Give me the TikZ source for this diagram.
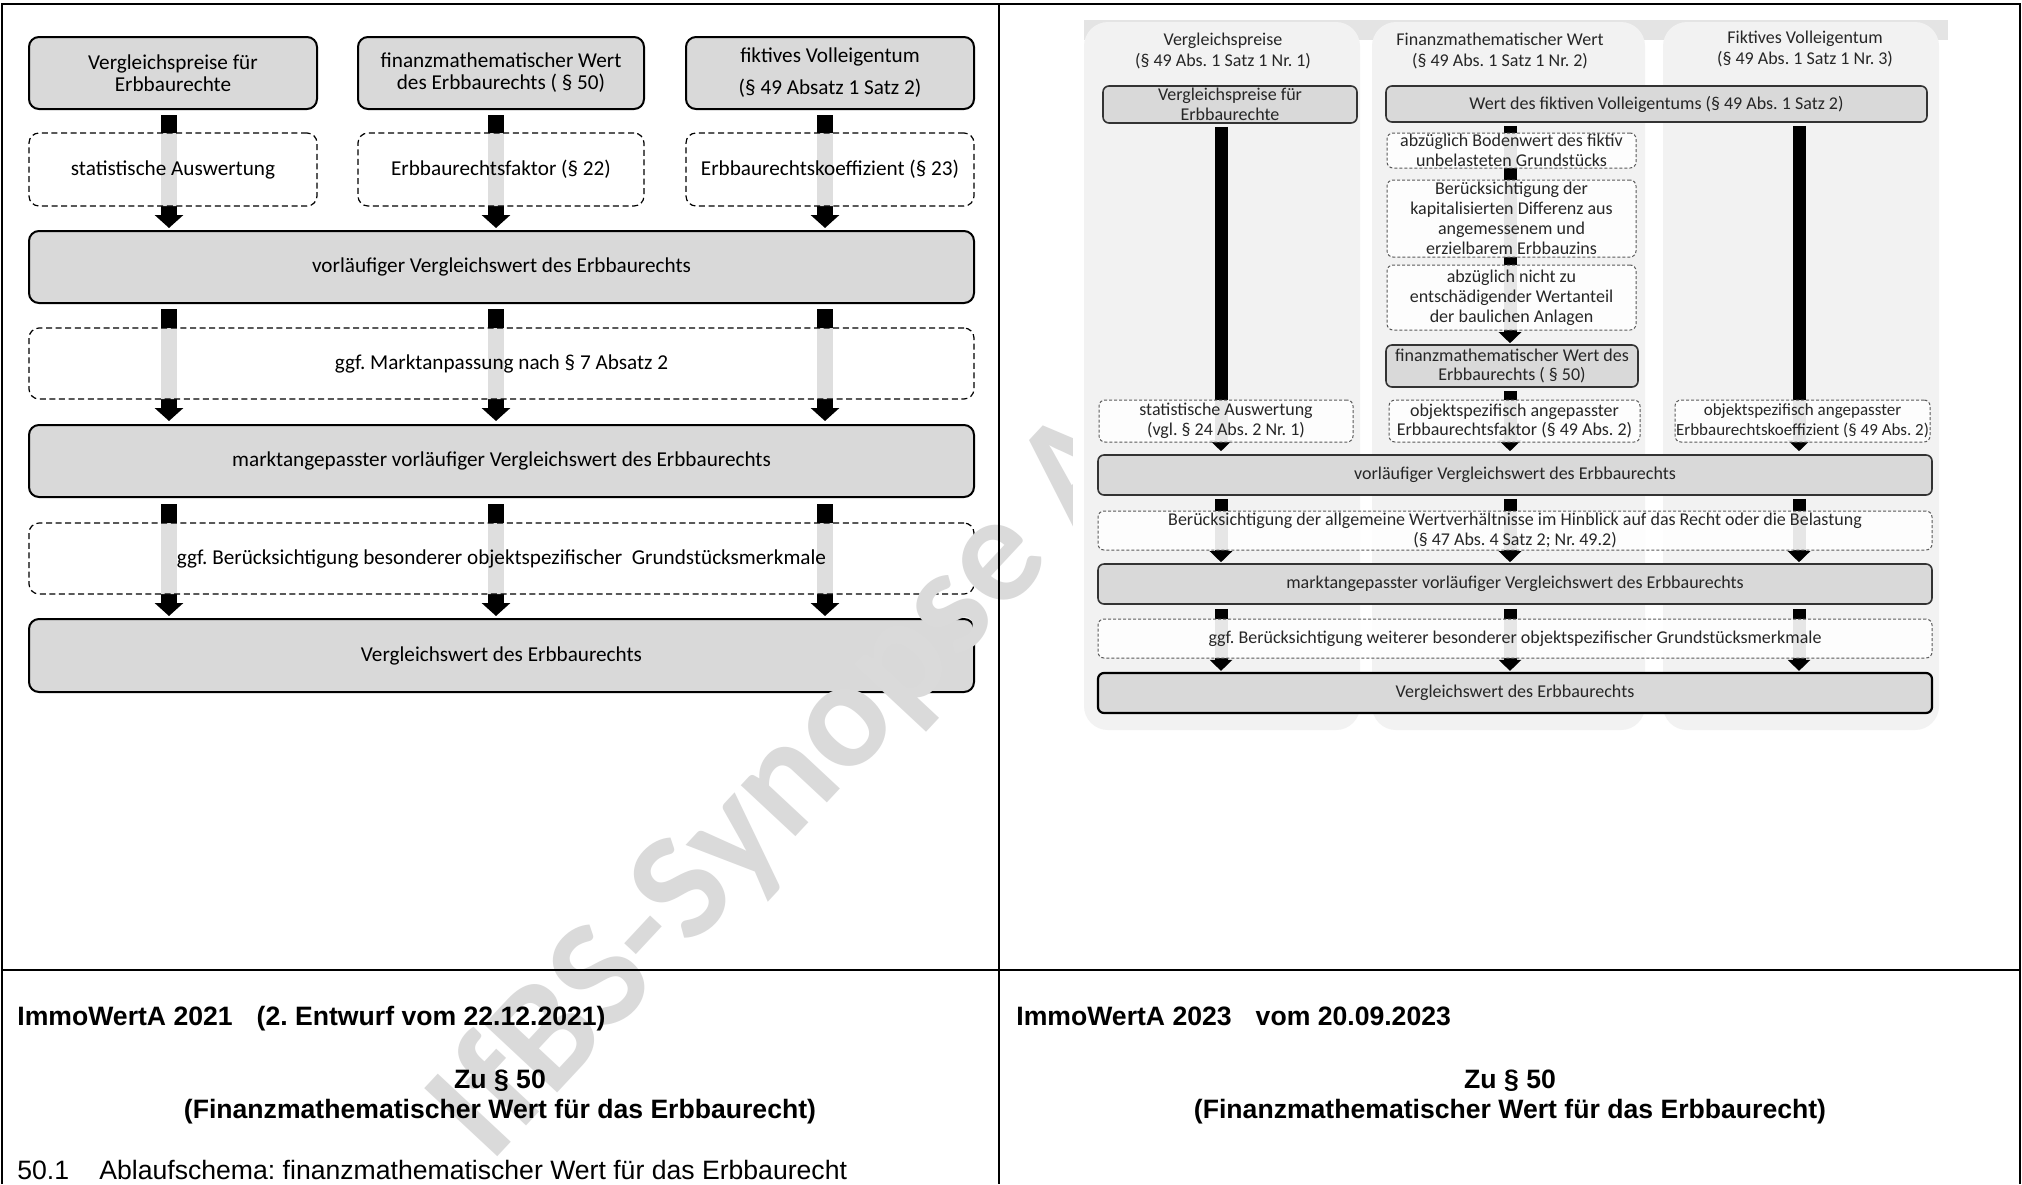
\documentclass[tikz,border=0pt]{standalone}
\usepackage{fontspec}
\setmainfont{Carlito}
\newfontfamily\arialfont{Liberation Sans}
\usetikzlibrary{arrows.meta}
\frenchspacing

\definecolor{boxgrey}{HTML}{D9D9D9}
\definecolor{panelgrey}{HTML}{F2F2F2}
\definecolor{stripgrey}{HTML}{E4E4E4}
\definecolor{wmgrey}{HTML}{DADADA}

\pgfdeclarelayer{panels}
\pgfdeclarelayer{arrows}
\pgfsetlayers{panels,arrows,main}

\begin{document}
\begin{tikzpicture}[x=0.5pt,y=-0.5pt,
  % a node spanning the rectangle x1/y1/x2/y2 (pixel units)
  span/.style args={#1/#2/#3/#4}{at={({(#1+#3)/2},{(#2+#4)/2})},
    minimum width={(#3-#1)*0.5pt}, minimum height={(#4-#2)*0.5pt}},
  % left flow chart
  lbox/.style={draw=black, line width=1pt, fill=boxgrey, rounded corners=5pt,
    inner sep=0pt, align=center, font=\fontsize{10.6}{11}\selectfont},
  ldash/.style={draw=black, line width=0.6pt, dash pattern=on 3pt off 1.8pt,
    fill=white, fill opacity=0.87, text opacity=1, rounded corners=5pt,
    inner sep=0pt, align=center, font=\fontsize{10.6}{11}\selectfont},
  larrow/.style={line width=8pt, -{Triangle[width=14pt,length=6.5pt]}},
  % right flow chart
  rbox/.style={draw=black!80, line width=0.8pt, fill=boxgrey, rounded corners=3pt,
    inner sep=0pt, align=center, text=black!85, font=\fontsize{9}{9.9}\selectfont},
  rfinal/.style={rbox, draw=black, line width=1.1pt},
  rdash/.style={draw=black!65, line width=0.5pt, dash pattern=on 1.5pt off 1pt,
    fill=white, fill opacity=0.9, text opacity=1, rounded corners=3pt,
    inner sep=0pt, align=center, text=black!85, font=\fontsize{9}{9.9}\selectfont},
  rhead/.style={align=center, inner sep=0pt, text=black!85, font=\fontsize{9}{10.8}\selectfont},
  rarrow/.style={line width=6.5pt, -{Triangle[width=11pt,length=5.5pt]}},
  % table text
  bt/.style={inner sep=0pt, font=\arialfont\bfseries\fontsize{13.3}{16}\selectfont},
  nt/.style={inner sep=0pt, font=\arialfont\fontsize{13.3}{16}\selectfont},
  wm/.style={inner sep=0pt, text=wmgrey, font=\bfseries\fontsize{77}{84}\selectfont},
  frame/.style={line width=1.2pt, draw=black}
]
\useasboundingbox (0,0) rectangle (2022,1184);
\begin{pgfonlayer}{panels}
  \fill[white] (0,0) rectangle (2022,1184);
\end{pgfonlayer}

% ---------------- left: ImmoWertA 2021 ----------------
\coordinate (lc1) at (169,0);
\coordinate (lc2) at (496,0);
\coordinate (lc3) at (825,0);

\node[lbox, span=29/37/317/109] (lt1) {Vergleichspreise für\\Erbbaurechte};
\node[lbox, span=358/37/644/109] (lt2) {finanzmathematischer Wert\\des Erbbaurechts ( § 50)};
\node[lbox, span=686/37/974/109] (lt3) {fiktives Volleigentum\\[5pt](§ 49 Absatz 1 Satz 2)};

\node[ldash, span=29/133/317/206] (ls1) {statistische Auswertung};
\node[ldash, span=358/133/644/206] (ls2) {Erbbaurechtsfaktor (§ 22)};
\node[ldash, span=686/133/974/206] (ls3) {Erbbaurechtskoeffizient (§ 23)};

\node[lbox, span=29/231/974/303] (lv) {vorläufiger Vergleichswert des Erbbaurechts};
\node[ldash, span=29/328/974/399] (lma) {ggf. Marktanpassung nach § 7 Absatz 2};
\node[lbox, span=29/425/974/497] (lm) {marktangepasster vorläufiger Vergleichswert des Erbbaurechts};
\node[ldash, span=29/523/974/594] (lg) {ggf. Berücksichtigung besonderer objektspezifischer\ \ Grundstücksmerkmale};
\node[lbox, span=29/619/974/692] (lf) {Vergleichswert des Erbbaurechts};

\begin{pgfonlayer}{arrows}
  \foreach \t/\c in {lt1/lc1, lt2/lc2, lt3/lc3} {
    \draw[larrow] ([yshift=-2.5pt]\t.south -| \c) -- ([yshift=1pt]lv.north -| \c);
  }
  \foreach \c in {lc1, lc2, lc3} {
    \draw[larrow] ([yshift=-2.5pt]lv.south -| \c) -- ([yshift=1.5pt]lm.north -| \c);
    \draw[larrow] ([yshift=-3pt]lm.south -| \c) -- ([yshift=1pt]lf.north -| \c);
  }
\end{pgfonlayer}

% watermark, lying over the left column only
\begin{scope}
  \clip (0,0) rectangle (1072,1184);
  \node[wm, rotate=47, anchor=base west] (wm) at (490,1165) {IfBS-Synopse A};
\end{scope}

% ---------------- right: ImmoWertA 2023 ----------------
\begin{pgfonlayer}{panels}
  \fill[stripgrey] (1084,20) rectangle (1948,40);
  \fill[panelgrey, rounded corners=12pt] (1084,22) rectangle (1360,730);
  \fill[panelgrey, rounded corners=12pt] (1372,22) rectangle (1645,730);
  \fill[panelgrey, rounded corners=12pt] (1663,22) rectangle (1939,730);
\end{pgfonlayer}

\coordinate (rc1) at (1221,0);
\coordinate (rc2) at (1510,0);
\coordinate (rc3) at (1799,0);

\node[rhead] (rh1) at (1223,51) {Vergleichspreise\\(§ 49 Abs. 1 Satz 1 Nr. 1)};
\node[rhead] (rh2) at (1500,51) {Finanzmathematischer Wert\\(§ 49 Abs. 1 Satz 1 Nr. 2)};
\node[rhead] (rh3) at (1805,49) {Fiktives Volleigentum\\(§ 49 Abs. 1 Satz 1 Nr. 3)};

\node[rbox, span=1103/86/1357/123] (rb1) {Vergleichspreise für\\Erbbaurechte};
\node[rbox, span=1386/86/1927/122] (rw) {Wert des fiktiven Volleigentums (§ 49 Abs. 1 Satz 2)};

\node[rdash, span=1387/133/1636/168] (rd1) {abzüglich Bodenwert des fiktiv\\unbelasteten Grundstücks};
\node[rdash, span=1387/180/1636/257] (rd2) {Berücksichtigung der\\kapitalisierten Differenz aus\\angemessenem und\\erzielbarem Erbbauzins};
\node[rdash, span=1387/265/1636/330] (rd3) {abzüglich nicht zu\\entschädigender Wertanteil\\der baulichen Anlagen};
\node[rbox, span=1386/345/1638/387] (rfin) {finanzmathematischer Wert des\\Erbbaurechts ( § 50)};

\node[rdash, span=1099/400/1353/442] (rs1) {statistische Auswertung\\(vgl. § 24 Abs. 2 Nr. 1)};
\node[rdash, span=1389/400/1640/442] (rs2) {objektspezifisch angepasster\\Erbbaurechtsfaktor (§ 49 Abs. 2)};
\node[rdash, span=1675/400/1930/442, font=\fontsize{8.5}{9.9}\selectfont] (rs3) {objektspezifisch angepasster\\Erbbaurechtskoeffizient (§ 49 Abs. 2)};

\node[rbox, span=1098/455/1932/495] (rv) {vorläufiger Vergleichswert des Erbbaurechts};
\node[rdash, span=1098/511/1932/550] (rdm) {Berücksichtigung der allgemeine Wertverhältnisse im Hinblick auf das Recht oder die Belastung\\(§ 47 Abs. 4 Satz 2; Nr. 49.2)};
\node[rbox, span=1098/564/1932/604] (rm) {marktangepasster vorläufiger Vergleichswert des Erbbaurechts};
\node[rdash, span=1098/619/1932/658] (rdg) {ggf. Berücksichtigung weiterer besonderer objektspezifischer Grundstücksmerkmale};
\node[rfinal, span=1098/673/1932/713] (rf) {Vergleichswert des Erbbaurechts};

\begin{pgfonlayer}{arrows}
  \draw[rarrow] ([yshift=-1.5pt]rb1.south -| rc1) -- ([yshift=1.5pt]rv.north -| rc1);
  \draw[rarrow] ([yshift=-1.5pt]rw.south -| rc3) -- ([yshift=1.5pt]rv.north -| rc3);
  \draw[rarrow] ([yshift=-1.5pt]rw.south -| rc2) -- ([yshift=0.5pt]rfin.north -| rc2);
  \draw[rarrow] ([yshift=-1.5pt]rfin.south -| rc2) -- ([yshift=1.5pt]rv.north -| rc2);
  \foreach \c in {rc1, rc2, rc3} {
    \draw[rarrow] ([yshift=-1.5pt]rv.south -| \c) -- ([yshift=0.5pt]rm.north -| \c);
    \draw[rarrow] ([yshift=-2pt]rm.south -| \c) -- ([yshift=0.5pt]rf.north -| \c);
  }
\end{pgfonlayer}

% ---------------- table headings ----------------
\node[bt, anchor=base west] (hl) at (17,1025) {ImmoWertA 2021\hspace*{12pt}(2. Entwurf vom 22.12.2021)};
\node[bt, anchor=base] (zl) at (500,1088) {Zu § 50};
\node[bt, anchor=base] (tl) at (500,1118) {(Finanzmathematischer Wert für das Erbbaurecht)};
\node[nt, anchor=base west] (nl) at (17,1179) {50.1};
\node[nt, anchor=base west] (al) at (99,1179) {Ablaufschema: finanzmathematischer Wert für das Erbbaurecht};

\node[bt, anchor=base west] (hr) at (1016,1025) {ImmoWertA 2023\hspace*{12pt}vom 20.09.2023};
\node[bt, anchor=base] (zr) at (1510,1088) {Zu § 50};
\node[bt, anchor=base] (tr) at (1510,1118) {(Finanzmathematischer Wert für das Erbbaurecht)};

% ---------------- table rules ----------------
\coordinate (tl0) at (2,4);
\coordinate (tr0) at (2020,4);
\coordinate (bl0) at (2,1184);
\coordinate (br0) at (2020,1184);
\coordinate (mt) at (999,4);
\coordinate (mb) at (999,1184);
\coordinate (hl0) at (2,970);
\coordinate (hr0) at (2020,970);
\draw[frame] (bl0) -- (tl0) -- (tr0) -- (br0);
\draw[frame] (mt) -- (mb);
\draw[frame] (hl0) -- (hr0);
\end{tikzpicture}
\end{document}
